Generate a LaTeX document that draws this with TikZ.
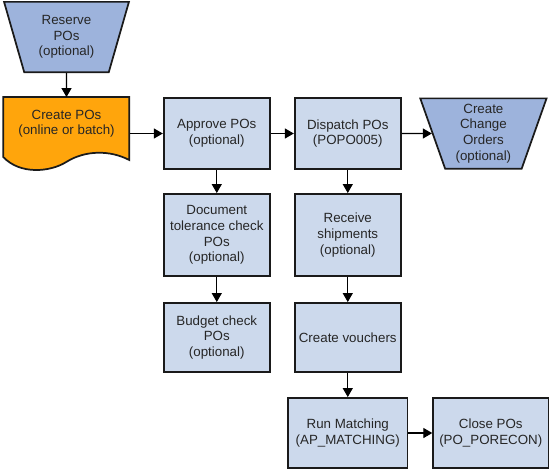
\documentclass[tikz,border=0pt]{standalone}
\usepackage{fontspec}
\setmainfont{Liberation Sans}
\usetikzlibrary{positioning,shapes.geometric,arrows,backgrounds}
\definecolor{boxblue}{HTML}{CCD9EC}
\definecolor{manblue}{HTML}{9DB3DC}
\definecolor{docorange}{HTML}{FFA50C}
\definecolor{edgegray}{HTML}{1A1A1A}
\tikzset{
	inner sep=2pt,
	font=\fontsize{10}{11.75}\selectfont,
	proc/.style={rectangle,draw=edgegray,fill=boxblue,text=black!85,line width=1.3pt,align=center,minimum width=79.7pt,minimum height=53.45pt},
	manual/.style={trapezium,trapezium left angle=73,trapezium right angle=73,shape border rotate=180,trapezium stretches=true,draw=edgegray,fill=manblue,text=black!85,line width=1.3pt,align=center,inner sep=0pt,minimum width=94pt,minimum height=52.7pt},
	docu/.style={rectangle,align=center,text=black!85,minimum width=94.5pt,minimum height=39.75pt},
	docshape/.style={draw=edgegray,fill=docorange,line width=1.3pt},
	pre/.style={->,>=triangle 60,line width=0.8pt},
	post/.style={<-,>=triangle 60,line width=0.8pt}
}
\begin{document}
\begin{tikzpicture}[x=0.75pt,y=-0.75pt]
\useasboundingbox (0,0) rectangle (553,471);
\node[manual] (Reserve) at (66.5,37) {Reserve\\POs\\(optional)};
\node[docu] (Create) [below=18pt of Reserve] {Create POs\\(online or batch)}
   edge [post] (Reserve);
\node[proc] (Approve) [right=24.75pt of Create.north east,anchor=north west] {Approve POs\\(optional)};
\draw[pre] (Create.east |- Approve.west) -- (Approve.west);
\node[proc] (Dispatch) [right=17.25pt of Approve] {Dispatch POs\\(POPO005)}
   edge [post] (Approve);
\node[manual,minimum width=95pt] (Change) [right=22.5pt of Dispatch] {Create\\Change\\Orders\\(optional)}
   edge [post] (Dispatch);
\node[proc,minimum height=61.7pt] (Tolerance) [below=17.25pt of Approve] {Document\\tolerance check\\POs\\(optional)}
   edge [post] (Approve);
\node[proc,minimum height=51.95pt] (Budget) [below=18.75pt of Tolerance] {Budget check\\POs\\(optional)}
   edge [post] (Tolerance);
\node[proc,minimum height=61.7pt] (Receive) [below=17.25pt of Dispatch] {Receive\\shipments\\(optional)}
   edge [post] (Dispatch);
\node[proc,minimum height=51.95pt] (Vouchers) [below=18.75pt of Receive] {Create vouchers}
   edge [post] (Receive);
\node[proc,minimum width=89.45pt,minimum height=52.7pt] (Matching) [below=18pt of Vouchers] {Run Matching\\(AP\_MATCHING)}
   edge [post] (Vouchers);
\node[proc,minimum width=86.45pt,minimum height=52.7pt] (Close) [right=18pt of Matching] {Close POs\\(PO\_PORECON)}
   edge [post] (Matching);
% document outline behind the text
\begin{scope}[on background layer,shift={(Create.north west)}]
\path[docshape] (0,0) -- (126,0) -- (126,63) .. controls (107,53) and (82,53) .. (63,65)
   .. controls (47,75) and (17,78) .. (0,60) -- cycle;
\end{scope}
\end{tikzpicture}
\end{document}
